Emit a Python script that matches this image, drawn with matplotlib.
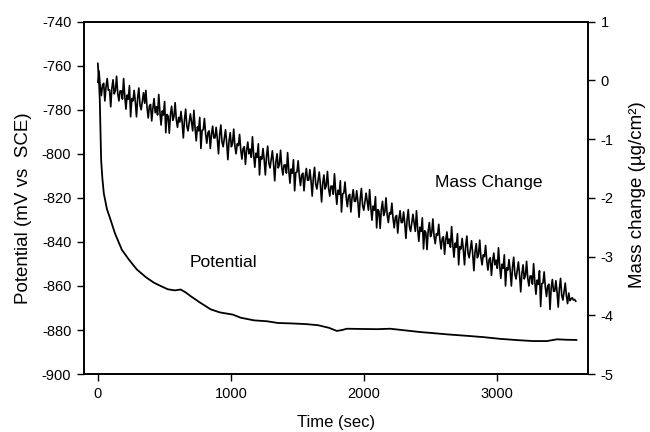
import matplotlib
matplotlib.use("Agg")
import matplotlib.pyplot as plt

plt.rcParams['font.family'] = ['Liberation Sans', 'DejaVu Sans']
plt.rcParams['axes.unicode_minus'] = False

# Potential (mV vs SCE) vs time (sec)
pot_t = [0, 4, 11, 15, 20, 25, 34, 45, 68, 96, 128, 180, 233, 293, 361, 421, 472, 526, 579,
         622, 662, 697, 767, 848, 917, 1015, 1073, 1173, 1269, 1354, 1459, 1564, 1654, 1737,
         1795, 1835, 1870, 1970, 2098, 2196, 2286, 2421, 2519, 2632, 2767, 2895, 3023, 3158,
         3271, 3374, 3449, 3519, 3595]
pot_v = [-759, -763, -770, -776, -790, -803, -811, -818, -825, -830, -836, -843.5, -848, -852.5,
         -856, -858.5, -860, -861.5, -862, -861.6, -863, -864.6, -867.5, -870.6, -872, -873,
         -874.4, -875.6, -876, -876.8, -877, -877.3, -877.8, -879, -880.4, -880, -879.4, -879.5,
         -879.6, -879.4, -880, -880.9, -881.4, -882, -882.6, -883.2, -884, -884.6, -885, -885,
         -884.2, -884.4, -884.5]

# Mass change (ug/cm2), sampled every 8.8 s from 0 s
mass_dt = 8.8
mass_v = [
    -0.03, 0.16, -0.10, -0.26, -0.08, -0.05, -0.35, -0.11, 0.03, -0.17,
    -0.16, -0.45, -0.13, 0.01, -0.23, -0.17, 0.07, -0.22, -0.35, -0.18,
    -0.18, -0.32, 0.03, -0.27, -0.49, -0.25, -0.32, -0.09, -0.62, -0.31,
    -0.35, -0.17, -0.36, -0.62, -0.30, -0.13, -0.42, -0.50, -0.36, -0.21,
    -0.39, -0.17, -0.46, -0.64, -0.44, -0.41, -0.69, -0.47, -0.31, -0.55,
    -0.45, -0.59, -0.24, -0.54, -0.76, -0.52, -0.59, -0.36, -0.89, -0.58,
    -0.61, -0.90, -0.58, -0.44, -0.68, -0.62, -0.38, -0.67, -0.80, -0.63,
    -0.71, -0.53, -0.72, -0.98, -0.66, -0.49, -0.78, -0.86, -0.72, -0.57,
    -0.72, -0.86, -0.51, -0.81, -1.03, -0.79, -0.86, -0.63, -1.16, -0.85,
    -0.84, -0.65, -0.91, -1.07, -0.89, -0.86, -1.16, -0.92, -0.78, -0.98,
    -0.98, -0.80, -0.99, -1.25, -0.93, -0.76, -1.05, -1.13, -0.99, -0.84,
    -1.06, -1.35, -1.03, -0.89, -1.13, -1.07, -0.83, -1.12, -1.25, -1.08,
    -1.11, -0.92, -1.18, -1.34, -1.16, -1.13, -1.43, -1.19, -1.05, -1.25,
    -1.17, -1.31, -0.96, -1.26, -1.48, -1.24, -1.31, -1.08, -1.61, -1.30,
    -1.34, -1.16, -1.35, -1.61, -1.29, -1.12, -1.41, -1.49, -1.35, -1.20,
    -1.42, -1.71, -1.39, -1.25, -1.49, -1.43, -1.19, -1.48, -1.61, -1.44,
    -1.44, -1.58, -1.23, -1.53, -1.75, -1.51, -1.58, -1.35, -1.88, -1.57,
    -1.56, -1.37, -1.63, -1.79, -1.61, -1.58, -1.88, -1.64, -1.50, -1.70,
    -1.70, -1.52, -1.71, -1.97, -1.65, -1.48, -1.77, -1.85, -1.71, -1.56,
    -1.78, -2.07, -1.75, -1.61, -1.85, -1.79, -1.55, -1.84, -1.97, -1.80,
    -1.80, -1.94, -1.59, -1.89, -2.11, -1.87, -1.94, -1.71, -2.24, -1.93,
    -1.92, -1.73, -1.99, -2.15, -1.97, -1.94, -2.24, -2.00, -1.86, -2.06,
    -2.06, -1.88, -2.07, -2.33, -2.01, -1.84, -2.13, -2.21, -2.07, -1.92,
    -2.07, -2.21, -1.86, -2.16, -2.38, -2.14, -2.21, -1.98, -2.51, -2.20,
    -2.23, -2.52, -2.20, -2.06, -2.30, -2.24, -2.00, -2.29, -2.42, -2.25,
    -2.28, -2.09, -2.35, -2.51, -2.33, -2.30, -2.60, -2.36, -2.22, -2.42,
    -2.42, -2.24, -2.43, -2.69, -2.37, -2.20, -2.49, -2.57, -2.43, -2.28,
    -2.43, -2.57, -2.22, -2.52, -2.74, -2.50, -2.57, -2.34, -2.87, -2.56,
    -2.59, -2.88, -2.56, -2.42, -2.66, -2.60, -2.36, -2.65, -2.78, -2.61,
    -2.64, -2.45, -2.71, -2.87, -2.69, -2.66, -2.96, -2.72, -2.58, -2.78,
    -2.70, -2.84, -2.49, -2.79, -3.01, -2.77, -2.84, -2.61, -3.14, -2.83,
    -2.87, -2.69, -2.88, -3.14, -2.82, -2.65, -2.94, -3.02, -2.88, -2.73,
    -2.95, -3.24, -2.92, -2.78, -3.02, -2.96, -2.72, -3.01, -3.14, -2.97,
    -3.00, -2.81, -3.07, -3.23, -3.05, -3.02, -3.32, -3.08, -2.94, -3.14,
    -3.06, -3.20, -2.85, -3.15, -3.37, -3.13, -3.20, -2.97, -3.50, -3.19,
    -3.23, -3.05, -3.24, -3.50, -3.18, -3.01, -3.30, -3.38, -3.24, -3.09,
    -3.31, -3.60, -3.28, -3.14, -3.38, -3.32, -3.08, -3.37, -3.50, -3.33,
    -3.33, -3.47, -3.12, -3.42, -3.64, -3.40, -3.47, -3.24, -3.85, -3.46,
    -3.45, -3.26, -3.52, -3.68, -3.50, -3.47, -3.90, -3.53, -3.39, -3.59,
    -3.59, -3.41, -3.60, -3.86, -3.54, -3.37, -3.66, -3.74, -3.60, -3.45,
    -3.67, -3.80, -3.62, -3.75, -3.72, -3.70, -3.74, -3.73, -3.76,
]
mass_t = [i * mass_dt for i in range(len(mass_v))]

x_ticks = [0, 1000, 2000, 3000]
left_ticks = [-740, -760, -780, -800, -820, -840, -860, -880, -900]
right_ticks = [1, 0, -1, -2, -3, -4, -5]

fig = plt.figure(figsize=(6.5, 4.32), dpi=100)
ax = fig.add_axes([0.129, 0.134, 0.776, 0.816])
ax2 = ax.twinx()

ax.plot(pot_t, pot_v, color='black', lw=1.3)
ax2.plot(mass_t, mass_v, color='black', lw=1.2)

ax.set_xlim(-105, 3684)
ax.set_ylim(-900, -740)
ax2.set_ylim(-5, 1)
ax.set_xticks(x_ticks)
ax.set_yticks(left_ticks)
ax2.set_yticks(right_ticks)

for a in (ax, ax2):
    a.tick_params(direction='out', length=5, width=1, labelsize=10.5, pad=4)
    for s in a.spines.values():
        s.set_linewidth(1.2)

ax.set_xlabel('Time (sec)', fontsize=12, labelpad=10)
ax.set_ylabel('Potential (mV vs  SCE)', fontsize=13.5)
ax.yaxis.set_label_coords(-0.103, 0.47)
ax2.set_ylabel('Mass change (µg/cm²)', fontsize=13.5)
ax2.yaxis.set_label_coords(1.08, 0.51)

ax.text(2933, -813.2, 'Mass Change', fontsize=12.5, ha='center', va='center')
ax.text(940, -849.4, 'Potential', fontsize=12.5, ha='center', va='center')

fig.savefig('out.png', dpi=100)
